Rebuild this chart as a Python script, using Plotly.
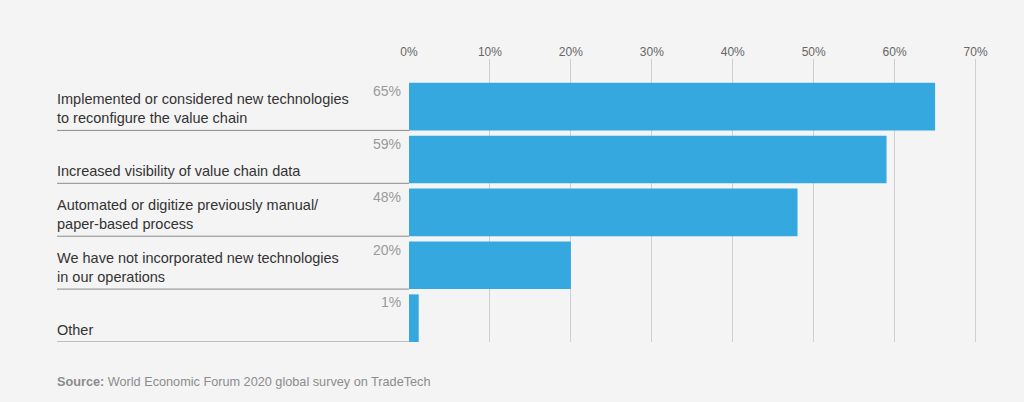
import plotly.graph_objects as go

categories = [
    "Implemented or considered new technologies<br>to reconfigure the value chain",
    "Increased visibility of value chain data",
    "Automated or digitize previously manual/<br>paper-based process",
    "We have not incorporated new technologies<br>in our operations",
    "Other",
]
values = [65, 59, 48, 20, 1.2]
value_labels = ["65%", "59%", "48%", "20%", "1%"]
tick_vals = [0, 10, 20, 30, 40, 50, 60, 70]
tick_text = ["0%", "10%", "20%", "30%", "40%", "50%", "60%", "70%"]
source_text = "<b>Source:</b> World Economic Forum 2020 global survey on TradeTech"

W, H = 1024, 402
ML, MR, MT, MB = 409, 46, 59, 60
dom_w = W - ML - MR
dom_h = H - MT - MB
label_x = (57 - ML) / dom_w
val_x = (403 - ML) / dom_w

positions = list(range(len(categories)))
FONT = "Liberation Sans, Arial"

fig = go.Figure()
fig.add_trace(go.Bar(
    x=values, y=positions, orientation="h",
    width=0.9,
    marker=dict(color="#35a8e0", line=dict(width=0)),
    hoverinfo="skip",
))

annotations = []
shapes = []
for i, (cat, vl) in enumerate(zip(categories, value_labels)):
    annotations.append(dict(
        x=label_x, xref="paper", y=i + 0.45, yref="y",
        text=cat, showarrow=False, xanchor="left", yanchor="bottom",
        align="left", yshift=2, xshift=-2,
        font=dict(family=FONT, size=14.5, color="#333333"),
    ))
    annotations.append(dict(
        x=val_x, xref="paper", y=i - 0.45, yref="y",
        text=vl, showarrow=False, xanchor="right", yanchor="top",
        align="right", yshift=2,
        font=dict(family=FONT, size=14, color="#9a9a9a"),
    ))
    shapes.append(dict(
        type="line", xref="paper", yref="y",
        x0=label_x, x1=0, y0=i + 0.45, y1=i + 0.45,
        line=dict(color="#8a8a8a", width=1),
    ))

annotations.append(dict(
    x=label_x, xref="paper", y=(342 - 382) / dom_h, yref="paper",
    text=source_text, showarrow=False, xanchor="left", yanchor="middle",
    xshift=-2,
    font=dict(family=FONT, size=12.7, color="#8c8c8c"),
))

fig.update_layout(
    width=W, height=H,
    margin=dict(l=ML, r=MR, t=MT, b=MB, autoexpand=False),
    paper_bgcolor="#f4f4f4", plot_bgcolor="#f4f4f4",
    showlegend=False,
    annotations=annotations,
    shapes=shapes,
    xaxis=dict(
        side="top", range=[0, 70.3], tickvals=tick_vals, ticktext=tick_text,
        showgrid=True, gridcolor="#cfcfcf", gridwidth=1, zeroline=False,
        showline=False, ticks="", ticklabelstandoff=0,
        tickfont=dict(family=FONT, size=12, color="#666666"),
        fixedrange=True,
    ),
    yaxis=dict(
        range=[4.45, -0.9], showgrid=False, zeroline=False, showline=False,
        showticklabels=False, ticks="", fixedrange=True,
    ),
    bargap=0.1,
)

fig.write_html(
    "out.html",
    config={"displayModeBar": False},
    post_script="document.body.style.margin='0px';document.body.style.background='#f4f4f4';",
)
